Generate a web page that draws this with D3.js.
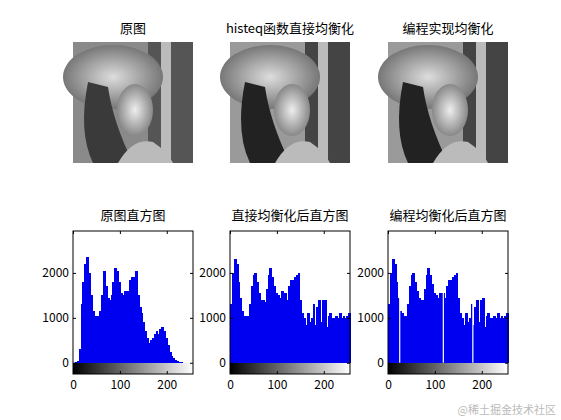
<!DOCTYPE html><html><head><meta charset="utf-8"><script src="https://cdn.jsdelivr.net/npm/d3@7"></script>
<style>body{margin:0;background:#fff}text{font-family:"Noto Sans CJK SC",Arial,sans-serif}</style></head><body><svg id="c" width="561" height="420"></svg><script>
const imgTitles=["原图","histeq函数直接均衡化","编程实现均衡化"];
const histTitles=["原图直方图","直接均衡化后直方图","编程均衡化后直方图"];
const xTicks=[0,100,200], yTicks=[0,1000,2000];
const binStarts=d3.range(0,256,4);
const hOrig=[0,10,50,300,1300,1800,2200,2350,2000,1500,1150,1050,1050,1050,1150,1500,2050,1700,1450,1400,1500,1800,2100,2050,1800,1550,1500,1600,1550,1600,1850,1900,1900,2050,1500,1250,1100,900,700,550,450,500,550,650,700,650,750,800,700,550,400,250,150,100,60,40,20,10,5,0,0,0,0,0];
const hEq=[1300,2000,2300,2200,1800,1450,1150,1050,1050,1050,1300,1700,1950,2000,1800,1550,1400,1400,1350,1650,1950,2100,1900,1700,1550,1500,1450,1600,1500,1550,1400,1700,1850,1850,1900,1950,2000,1400,1100,1000,850,1100,900,1000,1300,850,1250,1400,900,1400,1400,800,1050,1100,1000,1000,1050,1000,1100,1000,1050,1000,1050,1100];
const hProg=[1300,2000,2300,2200,1800,1450,1150,1100,1050,1050,1300,1700,1950,2000,1800,1600,1450,1400,1400,1650,1950,2100,1950,1750,1550,1500,1450,1550,1500,1550,1450,1700,1850,1850,1900,1950,2000,1450,1100,1000,850,1100,900,1000,1300,850,1250,1400,900,1400,1450,800,1050,1100,1000,1000,1050,1000,1100,1000,1050,1000,1050,1100];
const progGaps=[25,118,181];
const series=[hOrig,hEq,hProg];
const lefts=[73,230,388], W=120;
const svg=d3.select("#c");
const defs=svg.append("defs");
const cg=defs.append("linearGradient").attr("id","cb");
cg.append("stop").attr("offset","0").attr("stop-color","#000");cg.append("stop").attr("offset","1").attr("stop-color","#fff");
const rg=defs.append("radialGradient").attr("id","face").attr("cx","0.5").attr("cy","0.5").attr("r","0.5");
rg.append("stop").attr("offset","0").attr("stop-color","#eee");rg.append("stop").attr("offset","1").attr("stop-color","#888");
const hat=defs.append("radialGradient").attr("id","hat");
hat.append("stop").attr("offset","0").attr("stop-color","#ddd");hat.append("stop").attr("offset","1").attr("stop-color","#777");
lefts.forEach((L,i)=>{
  const g=svg.append("g").attr("transform",`translate(${L},42)`);
  g.append("rect").attr("width",W).attr("height",121).attr("fill",i?"#9a9a9a":"#8a8a8a");
  g.append("rect").attr("x",75).attr("width",45).attr("height",121).attr("fill",i?"#444":"#555");
  g.append("rect").attr("x",88).attr("y",0).attr("width",10).attr("height",121).attr("fill","#bbb");
  g.append("ellipse").attr("cx",40).attr("cy",35).attr("rx",50).attr("ry",32).attr("fill","url(#hat)");
  g.append("path").attr("d","M15,40 Q5,90 20,121 L60,121 Q40,80 35,45Z").attr("fill",i?"#222":"#3a3a3a");
  g.append("ellipse").attr("cx",62).attr("cy",68).attr("rx",18).attr("ry",26).attr("fill","url(#face)");
  g.append("path").attr("d","M45,121 Q60,95 80,100 Q95,110 100,121Z").attr("fill","#bbb");
  svg.append("text").attr("x",L+W/2).attr("y",33).attr("text-anchor","middle").attr("font-size",13).text(imgTitles[i]);
});
const y=d3.scaleLinear().domain([-250,2933]).range([374,231]);
lefts.forEach((L,i)=>{
  const x=d3.scaleLinear().domain([0,256]).range([L,L+W]);
  const g=svg.append("g");
  g.append("rect").attr("x",L).attr("y",y(0)).attr("width",W).attr("height",y(-250)-y(0)).attr("fill","url(#cb)");
  g.selectAll("rect.b").data(series[i]).join("rect").attr("class","b").attr("shape-rendering","crispEdges")
   .attr("x",(d,j)=>x(binStarts[j])).attr("width",(d,j)=>x(binStarts[j]+4)-x(binStarts[j])+1)
   .attr("y",d=>y(d)).attr("height",d=>Math.max(0,y(0)-y(d))).attr("fill","#0000f0");
  if(i==2) g.selectAll("line.gap").data(progGaps).join("line").attr("x1",d=>x(d)).attr("x2",d=>x(d)).attr("y1",y(2200)).attr("y2",y(0)).attr("stroke","#fff").attr("stroke-width",1.2);
  g.append("rect").attr("x",L).attr("y",231).attr("width",W).attr("height",143).attr("fill","none").attr("stroke","#000");
  g.append("g").attr("transform",`translate(${L},0)`).call(d3.axisLeft(y).tickValues(yTicks).tickFormat(d3.format("d")).tickSize(-3).tickPadding(4)).call(a=>{a.select(".domain").remove();a.selectAll("text").attr("font-size",12).attr("font-family","Arial");});
  g.append("g").attr("transform",`translate(${L+W},0)`).call(d3.axisRight(y).tickValues(yTicks).tickSize(-3).tickFormat("")).call(a=>a.select(".domain").remove());
  g.append("g").attr("transform",`translate(0,374)`).call(d3.axisBottom(x).tickValues(xTicks).tickSize(-3).tickPadding(6)).call(a=>{a.select(".domain").remove();a.selectAll("text").attr("font-size",12).attr("font-family","Arial");});
  g.append("g").attr("transform",`translate(0,231)`).call(d3.axisTop(x).tickValues(xTicks).tickSize(-3).tickFormat("")).call(a=>a.select(".domain").remove());
  svg.append("text").attr("x",L+W/2).attr("y",220).attr("text-anchor","middle").attr("font-size",13).text(histTitles[i]);
});
svg.append("text").attr("x",556).attr("y",414).attr("text-anchor","end").attr("font-size",11).attr("fill","#bbb").text("@稀土掘金技术社区");
</script></body></html>
